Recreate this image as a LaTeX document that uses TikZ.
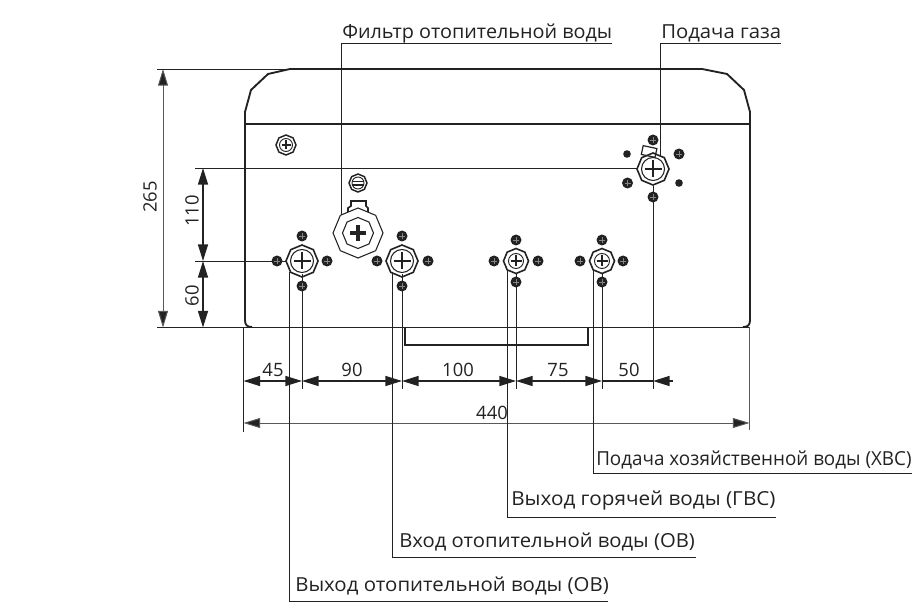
\documentclass[tikz,border=0pt]{standalone}
\usepackage{fontspec}
\setmainfont{Open Sans}
\usetikzlibrary{arrows.meta}
\definecolor{ink}{HTML}{222222}
\tikzset{
  px/.style={x=0.75pt,y=-0.75pt},
  hull/.style={draw=ink,line width=1.4pt,line join=round},
  thinl/.style={draw=ink,line width=0.7pt},
  grayl/.style={draw=ink!75,line width=0.75pt},
  dimb/.style={draw=ink,line width=1.1pt,{Triangle[length=12.5pt,width=7.5pt]}-{Triangle[length=12.5pt,width=7.5pt]}},
  dimg/.style={draw=ink!75,line width=0.75pt,{Triangle[length=12.5pt,width=7.5pt,fill=ink]}-{Triangle[length=12.5pt,width=7.5pt,fill=ink]}},
  dimt/.style={font=\fontsize{13.8pt}{15pt}\selectfont,text=ink,inner sep=0pt,anchor=center},
  lead/.style={font=\fontsize{14.5pt}{16pt}\selectfont,text=ink,inner sep=0pt,anchor=base west}
}
\newcommand{\octa}[4]{\draw[draw=ink,#4,shift={(#1,#2)}] plot[samples at={0,45,...,315}] (\x:#3) -- cycle;}
\newcommand{\fixbolt}[3]{%
  \fill[ink,shift={(#1,#2)}] (0,0) circle[radius=#3+0.5];
  \draw[ink!55,line width=0.25pt,shift={(#1,#2)}] (-#3*0.6,0)--(#3*0.6,0) (0,-#3*0.6)--(0,#3*0.6);}
\newcommand{\crossmark}[3]{\draw[ink,line width=1pt,shift={(#1,#2)}] (-#3,0)--(#3,0) (0,-#3)--(0,#3);}
\newcommand{\fourbolts}[7]{%
  \fixbolt{#1}{#4}{#7}\fixbolt{#1}{#5}{#7}\fixbolt{#2}{#3}{#7}\fixbolt{#6}{#3}{#7}}
\newcommand{\fitbig}[2]{%
  \octa{#1}{#2}{16}{line width=1.2pt}
  \draw[ink,line width=0.8pt] (#1,#2) circle[radius=11.5];
  \crossmark{#1}{#2}{8.5}}
\newcommand{\fitsmall}[2]{%
  \octa{#1}{#2}{12.5}{line width=1.2pt}
  \draw[ink,line width=0.7pt] (#1,#2) circle[radius=7.5];
  \crossmark{#1}{#2}{5.5}}
\begin{document}
\begin{tikzpicture}[px]
\useasboundingbox (0,0) rectangle (920,616);
% housing
\draw[hull] (245,320) -- (245,112) -- (251,90) -- (268,74) -- (290,69) -- (702,69) -- (727,74) -- (744,90) -- (750,112) -- (750,320)
  .. controls (750,325) and (748,327) .. (743,327);
\draw[hull] (245,320) .. controls (245,325) and (247,327) .. (252,327);
\draw[thinl,line width=0.9pt] (245,124) -- (750,124);
\draw[ink,line width=1.2pt] (405,327) -- (405,345) -- (588,345) -- (588,327);
% extension lines
\coordinate (e265t) at (157,69); \coordinate (e265tr) at (292,69);
\coordinate (e265b) at (157,327.5); \coordinate (e265br) at (750,327.5);
\coordinate (e110a) at (195,168); \coordinate (e110b) at (638,168);
\coordinate (e60a) at (195,261); \coordinate (e60b) at (286,261);
\draw[thinl] (e265t)--(e265tr) (e110a)--(e110b) (e60a)--(e60b);
\draw[thinl,line width=0.9pt] (e265b)--(e265br);
\coordinate (xl) at (243.5,327); \coordinate (xld) at (243.5,432);
\coordinate (xr) at (749.5,327); \coordinate (xrd) at (749.5,430);
\draw[thinl] (xl)--(xld);
\draw[grayl] (xr)--(xrd);
\coordinate (c1t) at (302,274); \coordinate (c1b) at (302,389);
\coordinate (c2t) at (402,274); \coordinate (c2b) at (402,389);
\coordinate (c3t) at (516,274); \coordinate (c3b) at (516,389);
\coordinate (c4t) at (602,274); \coordinate (c4b) at (602,389);
\coordinate (c5t) at (653,186); \coordinate (c5b) at (653,389);
\draw[thinl] (c1t)--(c1b) (c2t)--(c2b) (c3t)--(c3b) (c4t)--(c4b) (c5t)--(c5b);
% fixing screws
\octa{286}{145}{10}{line width=1.1pt}
\draw[ink,line width=0.7pt] (286,145) circle[radius=6.5];
\crossmark{286}{145}{4.5}
\octa{358}{183}{9}{line width=1.1pt}
\draw[ink,line width=0.7pt] (358,183) circle[radius=6];
\draw[ink,line width=0.9pt] (352,181.5)--(364,181.5) (352,185)--(364,185);
% filter
\draw[ink,line width=1.2pt] (348,212) -- (348,208) -- (351,206) -- (351,201) -- (366,201) -- (366,206) -- (368,208) -- (368,212);
\octa{358}{233}{25}{line width=0.8pt}
\octa{358}{233}{15.5}{line width=0.8pt}
\draw[ink,line width=2.6pt] (350,233)--(366,233) (358,225)--(358,241);
% fittings
\fitbig{302}{261} \fourbolts{302}{277}{261}{236}{286}{327}{5}
\fitbig{402}{261} \fourbolts{402}{377}{261}{236}{286}{428}{5}
\fitsmall{516}{261} \fourbolts{516}{494}{261}{240}{282}{538}{5}
\fitsmall{602}{261} \fourbolts{602}{580}{261}{240}{282}{623}{5}
% gas
\draw[ink,line width=0.9pt,rotate around={-12:(649,152)}] (642,147) rectangle (656,156);
\fitbig{653}{169}
\fixbolt{653}{140}{5}\fixbolt{653}{197}{5}\fixbolt{679}{154}{5}\fixbolt{627.5}{183}{5}
\fill[ink] (627,154) circle[radius=3.8] (679,183) circle[radius=3.8];
% dimensions, vertical
\coordinate (v1) at (163,69); \coordinate (v2) at (163,327.5);
\coordinate (v3) at (203,168); \coordinate (v4) at (203,261); \coordinate (v5) at (203,327.5);
\draw[dimg] (v1)--(v2);
\draw[dimb] (v3)--(v4);
\draw[dimb] (v4)--(v5);
% dimensions, horizontal
\coordinate (h0) at (243.5,381); \coordinate (h1) at (302,381); \coordinate (h2) at (402,381);
\coordinate (h3) at (516,381); \coordinate (h4) at (602,381); \coordinate (h5) at (653,381); \coordinate (h6) at (673,381);
\draw[dimb] (h0)--(h1);
\draw[dimb] (h1)--(h2);
\draw[dimb] (h2)--(h3);
\draw[dimb] (h3)--(h4);
\draw[ink,line width=1.1pt] (h4)--(h5);
\draw[ink,line width=1.1pt,{Triangle[length=12.5pt,width=7.5pt]}-] (h5)--(h6);
\coordinate (o0) at (243.5,423); \coordinate (o1) at (749.5,423);
\draw[dimg] (o0)--(o1);
% dimension texts
\node[dimt,rotate=90] (t265) at (150,197) {265};
\node[dimt,rotate=90] (t110) at (192,211) {110};
\node[dimt,rotate=90] (t60) at (192,296) {60};
\node[dimt] (t45) at (273,370) {45};
\node[dimt] (t90) at (352,370) {90};
\node[dimt] (t100) at (458,370) {100};
\node[dimt] (t75) at (558,370) {75};
\node[dimt] (t50) at (629,370) {50};
\node[dimt] (t440) at (492,413) {440};
% leaders
\coordinate (f0) at (341.5,215); \coordinate (f1) at (612,43);
\coordinate (g0) at (660,157); \coordinate (g1) at (781,43);
\coordinate (l10) at (289,272); \coordinate (l11) at (608,601);
\coordinate (l20) at (392,272); \coordinate (l21) at (696,557);
\coordinate (l30) at (507,270); \coordinate (l31) at (776,517);
\coordinate (l40) at (593,270); \coordinate (l41) at (912,473);
\draw[thinl] (f0)|-(f1) (g0)|-(g1) (l10)|-(l11) (l20)|-(l21) (l30)|-(l31) (l40)|-(l41);
\node[lead,xscale=1.025] (n1) at (342,39) {Фильтр отопительной воды};
\node[lead,xscale=1.05] (n2) at (661,39) {Подача газа};
\node[lead,xscale=0.974] (n3) at (596,465) {Подача хозяйственной воды (ХВС)};
\node[lead,xscale=1.07] (n4) at (511,505) {Выход горячей воды (ГВС)};
\node[lead,xscale=1.047] (n5) at (399,547) {Вход отопительной воды (ОВ)};
\node[lead,xscale=1.055] (n6) at (295,591) {Выход отопительной воды (ОВ)};
\end{tikzpicture}
\end{document}
